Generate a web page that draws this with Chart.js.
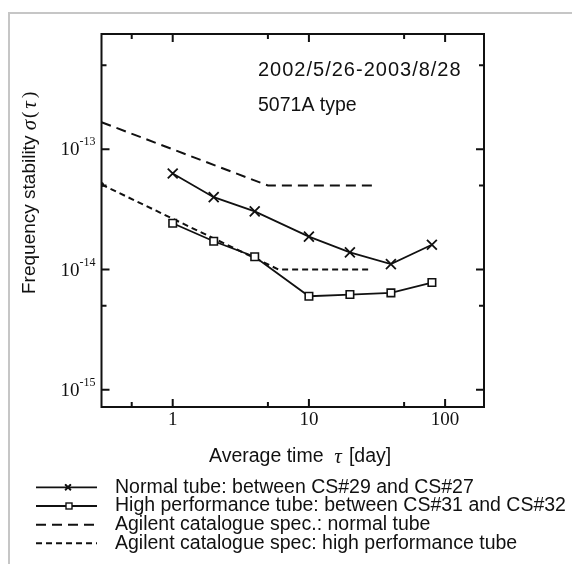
<!DOCTYPE html>
<html><head><meta charset="utf-8">
<script src="https://cdn.jsdelivr.net/npm/chart.js@4.4.1/dist/chart.umd.min.js"></script>
<style>html,body{margin:0;padding:0;background:#fff;}#wrap{width:572px;height:564px;position:relative;}</style>
</head><body><div id="wrap"><canvas id="c" width="572" height="564"></canvas></div>
<script>
// ---- data ----
const tau = [1, 2, 4, 10, 20, 40, 80];
const normalTube = [6.3e-14, 4.0e-14, 3.05e-14, 1.88e-14, 1.39e-14, 1.11e-14, 1.61e-14];
const highPerfTube = [2.43e-14, 1.72e-14, 1.28e-14, 6.0e-15, 6.2e-15, 6.4e-15, 7.8e-15];
const specNormalTau = [0.3, 5, 30];
const specNormal = [1.68e-13, 5e-14, 5e-14];
const specHighTau = [0.3, 6, 28];
const specHigh = [5.1e-14, 1e-14, 1e-14];
const seriesLabels = [
  'Normal tube: between CS#29 and CS#27',
  'High performance tube: between CS#31 and CS#32',
  'Agilent catalogue spec.: normal tube',
  'Agilent catalogue spec: high performance tube'
];
const xMajorTicks = [1, 10, 100];
const xTickLabels = ['1', '10', '100'];
const xMinorTicks = [0.5, 5, 50];
const yMajorTicks = [1e-13, 1e-14, 1e-15];
const yTickExponents = ['-13', '-14', '-15'];
const yMinorTicks = [5e-13, 5e-14, 5e-15];
const annotationLines = ['2002/5/26-2003/8/28', '5071A type'];
const xTitle = ['Average time', 'τ', '[day]'];
const yTitle = ['Frequency stability', 'σ', 'τ'];

const SANS = '"Liberation Sans", Arial, sans-serif';
const SERIF = '"Liberation Serif", "Times New Roman", serif';
const INK = '#111';

const pts = (xs, ys) => xs.map((x, i) => ({x, y: ys[i]}));

const decor = {
  id: 'decor',
  beforeDraw(chart) {
    const ctx = chart.ctx;
    ctx.save();
    ctx.fillStyle = '#fff';
    ctx.fillRect(0, 0, chart.width, chart.height);
    ctx.strokeStyle = '#c6c6c6';
    ctx.lineWidth = 2;
    ctx.beginPath();
    ctx.moveTo(9, 564); ctx.lineTo(9, 13); ctx.lineTo(572, 13);
    ctx.stroke();
    ctx.restore();
  },
  afterDraw(chart) {
    const ctx = chart.ctx;
    const a = chart.chartArea;
    const xs = chart.scales.x, ys = chart.scales.y;
    ctx.save();
    ctx.strokeStyle = INK;
    ctx.fillStyle = INK;
    // frame
    ctx.lineWidth = 2;
    ctx.strokeRect(a.left, a.top, a.right - a.left, a.bottom - a.top);
    // ticks (inward, mirrored)
    const tickX = (v, len) => {
      const p = xs.getPixelForValue(v);
      ctx.beginPath();
      ctx.moveTo(p, a.bottom); ctx.lineTo(p, a.bottom - len);
      ctx.moveTo(p, a.top); ctx.lineTo(p, a.top + len);
      ctx.stroke();
    };
    const tickY = (v, len) => {
      const p = ys.getPixelForValue(v);
      ctx.beginPath();
      ctx.moveTo(a.left, p); ctx.lineTo(a.left + len, p);
      ctx.moveTo(a.right, p); ctx.lineTo(a.right - len, p);
      ctx.stroke();
    };
    ctx.lineWidth = 2;
    xMajorTicks.forEach(v => tickX(v, 8));
    xMinorTicks.forEach(v => tickX(v, 5));
    yMajorTicks.forEach(v => tickY(v, 8));
    yMinorTicks.forEach(v => tickY(v, 5));

    // x tick labels
    ctx.font = '19px ' + SERIF;
    ctx.textAlign = 'center';
    ctx.textBaseline = 'middle';
    xMajorTicks.forEach((v, i) => {
      ctx.fillText(xTickLabels[i], xs.getPixelForValue(v), a.bottom + 13);
    });
    // y tick labels 10^n
    yMajorTicks.forEach((v, i) => {
      const p = ys.getPixelForValue(v);
      ctx.font = '12px ' + SERIF;
      ctx.textAlign = 'right';
      ctx.textBaseline = 'middle';
      const right = a.left - 6;
      const ew = ctx.measureText(yTickExponents[i]).width;
      ctx.fillText(yTickExponents[i], right, p - 7);
      ctx.font = '19px ' + SERIF;
      ctx.fillText('10', right - ew, p + 1);
    });

    // annotations
    ctx.textAlign = 'left';
    ctx.textBaseline = 'middle';
    ctx.font = '20px ' + SANS;
    ctx.letterSpacing = '1px';
    ctx.fillText(annotationLines[0], 258, 70);
    ctx.letterSpacing = '0px';
    ctx.font = '19.5px ' + SANS;
    ctx.fillText(annotationLines[1], 258, 106);

    // x title
    let x = 209;
    const ty = 457;
    ctx.font = '19.5px ' + SANS;
    ctx.fillText(xTitle[0], x, ty);
    x += ctx.measureText(xTitle[0] + '  ').width;
    ctx.font = 'italic 21px ' + SERIF;
    ctx.fillText(xTitle[1], x, ty);
    x += ctx.measureText(xTitle[1]).width + 7;
    ctx.font = '19.5px ' + SANS;
    ctx.fillText(xTitle[2], x, ty);

    // y title (rotated)
    ctx.save();
    ctx.translate(30, 294);
    ctx.rotate(-Math.PI / 2);
    let yx = 0;
    ctx.font = '19px ' + SANS;
    ctx.fillText(yTitle[0], yx, 0);
    yx += ctx.measureText(yTitle[0] + ' ').width;
    ctx.font = 'italic 21px ' + SERIF;
    ctx.fillText(yTitle[1], yx, 0);
    yx += ctx.measureText(yTitle[1]).width + 2;
    ctx.font = '19px ' + SERIF;
    ctx.fillText('(', yx, 0);
    yx += ctx.measureText('(').width + 3;
    ctx.font = 'italic 21px ' + SERIF;
    ctx.fillText(yTitle[2], yx, 0);
    yx += ctx.measureText(yTitle[2]).width + 3;
    ctx.font = '19px ' + SERIF;
    ctx.fillText(')', yx, 0);
    ctx.restore();

    // legend
    const rows = [487.3, 506, 524.7, 543.3];
    const ds = chart.data.datasets;
    rows.forEach((ry, i) => {
      const d = ds[i];
      ctx.save();
      ctx.strokeStyle = INK;
      ctx.lineWidth = d.borderWidth;
      ctx.setLineDash(d.borderDash || []);
      ctx.beginPath();
      ctx.moveTo(36, ry); ctx.lineTo(97, ry);
      ctx.stroke();
      ctx.setLineDash([]);
      if (d.pointStyle === 'crossRot') {
        Chart.helpers.drawPoint(ctx, {pointStyle: 'crossRot', radius: 4, borderWidth: 1.6}, 68, ry);
        ctx.lineWidth = 1.6; ctx.stroke();
      } else if (d.pointStyle === 'rect') {
        ctx.fillStyle = '#fff';
        ctx.lineWidth = 1.4;
        ctx.fillRect(66, ry - 3, 6, 6);
        ctx.strokeRect(66, ry - 3, 6, 6);
      }
      ctx.restore();
      ctx.font = '19.5px ' + SANS;
      ctx.textAlign = 'left';
      ctx.textBaseline = 'middle';
      ctx.fillStyle = INK;
      ctx.fillText(seriesLabels[i], 115, ry);
    });
    ctx.restore();
  }
};

new Chart(document.getElementById('c'), {
  type: 'line',
  data: {
    datasets: [
      {label: seriesLabels[0], data: pts(tau, normalTube), borderColor: INK, borderWidth: 1.8,
       pointStyle: 'crossRot', pointRadius: 7, pointBorderWidth: 1.8, pointBorderColor: INK,
       pointBackgroundColor: 'rgba(0,0,0,0)', tension: 0},
      {label: seriesLabels[1], data: pts(tau, highPerfTube), borderColor: INK, borderWidth: 1.8,
       pointStyle: 'rect', pointRadius: 5.3, pointBorderWidth: 1.6, pointBorderColor: INK,
       pointBackgroundColor: '#fff', tension: 0},
      {label: seriesLabels[2], data: pts(specNormalTau, specNormal), borderColor: INK, borderWidth: 2,
       borderDash: [10, 6], pointRadius: 0, tension: 0},
      {label: seriesLabels[3], data: pts(specHighTau, specHigh), borderColor: INK, borderWidth: 2,
       borderDash: [6, 4], pointRadius: [2.5, 0, 0], pointBackgroundColor: INK, pointBorderWidth: 0, tension: 0}
    ]
  },
  options: {
    responsive: false,
    animation: false,
    devicePixelRatio: 1,
    layout: {padding: {left: 101.5, top: 34, right: 88, bottom: 157}},
    scales: {
      x: {type: 'logarithmic', min: 0.3, max: 193, display: false},
      y: {type: 'logarithmic', min: 7.2e-16, max: 9.1e-13, display: false}
    },
    plugins: {legend: {display: false}, tooltip: {enabled: false}},
    events: []
  },
  plugins: [decor]
});
</script></body></html>
